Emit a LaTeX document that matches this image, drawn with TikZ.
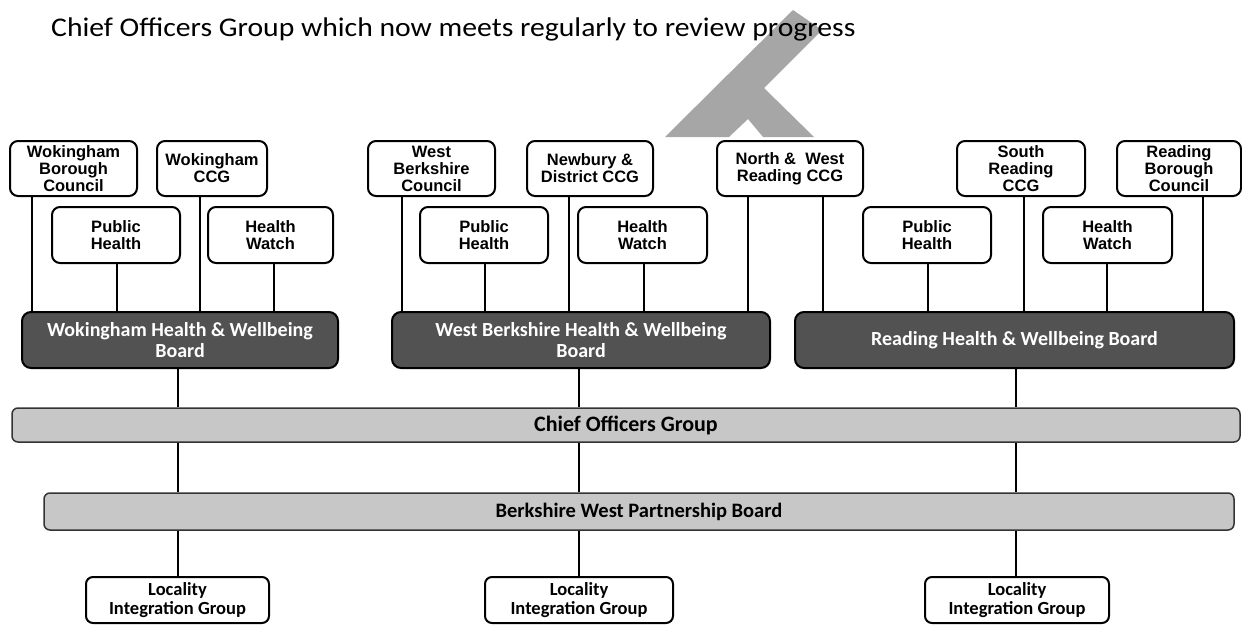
\documentclass[tikz,border=0pt]{standalone}
\usepackage{graphicx}
\usepackage{fontspec}
\setmainfont{Liberation Sans}
\newfontfamily\calibri{Carlito}
\tikzset{
  member/.style={draw, line width=2pt, rounded corners=8pt, align=center,
    inner sep=0pt, font=\bfseries\fontsize{16.5}{17}\selectfont},
  hwboard/.style={draw, line width=2pt, rounded corners=9pt, fill=black!68,
    text=white, align=center, inner sep=0pt,
    font=\calibri\bfseries\fontsize{20}{21}\selectfont},
  groupbar/.style={draw=black!80, line width=1.5pt, rounded corners=6pt,
    fill=black!22, align=center, inner sep=0pt, font=\calibri\bfseries},
  locality/.style={draw, line width=2pt, rounded corners=7pt, align=center,
    inner sep=0pt, font=\calibri\bfseries\fontsize{18.5}{19}\selectfont},
  link/.style={line width=2pt}
}

\begin{document}
\begin{tikzpicture}[x=1pt, y=-1pt]
  \useasboundingbox (0,0) rectangle (1242,624);
  % scanned mark behind the heading
  \fill[black!35] (665,137) -- (793,10) -- (822,30) -- (764,88) -- (814,137)
    -- (763,137) -- (748,119) -- (729,137) -- cycle;
  \node[anchor=base west, inner sep=0pt, font=\calibri\fontsize{27}{30}\selectfont] (intro) at (51,36)
    {\scalebox{1.1}[1]{Chief Officers Group which now meets regularly to review progress}};

  % Wokingham
  \node[member, minimum width=127pt, minimum height=55pt] (wbc) at (73.5,168.5) {Wokingham\\Borough\\Council};
  \node[member, minimum width=110pt, minimum height=55pt] (wccg) at (212,168.5) {Wokingham\\CCG};
  \node[member, minimum width=128pt, minimum height=56pt] (wph) at (116,235) {Public\\Health};
  \node[member, minimum width=125pt, minimum height=56pt] (whw) at (270.5,235) {Health\\Watch};
  \node[hwboard, minimum width=316pt, minimum height=56pt] (whwb) at (180,340) {Wokingham Health \& Wellbeing\\Board};

  % West Berkshire
  \node[member, minimum width=127pt, minimum height=55pt] (wbcc) at (431.5,168.5) {West\\Berkshire\\Council};
  \node[member, minimum width=126pt, minimum height=55pt] (nccg) at (590,168.5) {Newbury \&\\District CCG};
  \node[member, minimum width=146pt, minimum height=55pt] (nwr) at (790,168.5) {North \& \ West\\Reading CCG};
  \node[member, minimum width=128pt, minimum height=56pt] (wbph) at (484,235) {Public\\Health};
  \node[member, minimum width=129pt, minimum height=56pt] (wbhw) at (642.5,235) {Health\\Watch};
  \node[hwboard, minimum width=378pt, minimum height=56pt] (wbhwb) at (581,340) {West Berkshire Health \& Wellbeing\\Board};

  % Reading
  \node[member, minimum width=128pt, minimum height=55pt] (srccg) at (1021,168.5) {South\\Reading\\CCG};
  \node[member, minimum width=124pt, minimum height=55pt] (rbc) at (1179,168.5) {Reading\\Borough\\Council};
  \node[member, minimum width=128pt, minimum height=56pt] (rph) at (927,235) {Public\\Health};
  \node[member, minimum width=129pt, minimum height=56pt] (rhw) at (1107.5,235) {Health\\Watch};
  \node[hwboard, minimum width=439pt, minimum height=56pt] (rhwb) at (1014.5,340) {Reading Health \& Wellbeing Board};

  % shared groups
  \node[groupbar, font=\calibri\bfseries\fontsize{22}{24}\selectfont, minimum width=1228pt, minimum height=34pt] (cog) at (626,425) {Chief Officers Group};
  \node[groupbar, font=\calibri\bfseries\fontsize{20.5}{22}\selectfont, minimum width=1190pt, minimum height=37pt] (bwpb) at (639,511.5) {Berkshire West Partnership Board};
  \node[locality, minimum width=183pt, minimum height=46pt] (loc1) at (177.5,600) {Locality\\Integration Group};
  \node[locality, minimum width=188pt, minimum height=46pt] (loc2) at (579,600) {Locality\\Integration Group};
  \node[locality, minimum width=184pt, minimum height=46pt] (loc3) at (1017,600) {Locality\\Integration Group};

  \foreach \src/\px/\dst in {wbc/32/whwb, wph/117/whwb, wccg/200/whwb, whw/274/whwb,
      wbcc/402/wbhwb, wbph/485/wbhwb, nccg/569/wbhwb, wbhw/644/wbhwb, nwr/748/wbhwb,
      nwr/823/rhwb, rph/928/rhwb, srccg/1024/rhwb, rhw/1107/rhwb, rbc/1203/rhwb}
    \draw[link] (\src.south -| \px,0) -- (\dst.north -| \px,0);
  \foreach \hw/\px/\loc in {whwb/178/loc1, wbhwb/579/loc2, rhwb/1016/loc3} {
    \draw[link] (\hw.south -| \px,0) -- (cog.north -| \px,0);
    \draw[link] (cog.south -| \px,0) -- (bwpb.north -| \px,0);
    \draw[link] (bwpb.south -| \px,0) -- (\loc.north -| \px,0);
  }
\end{tikzpicture}
\end{document}
